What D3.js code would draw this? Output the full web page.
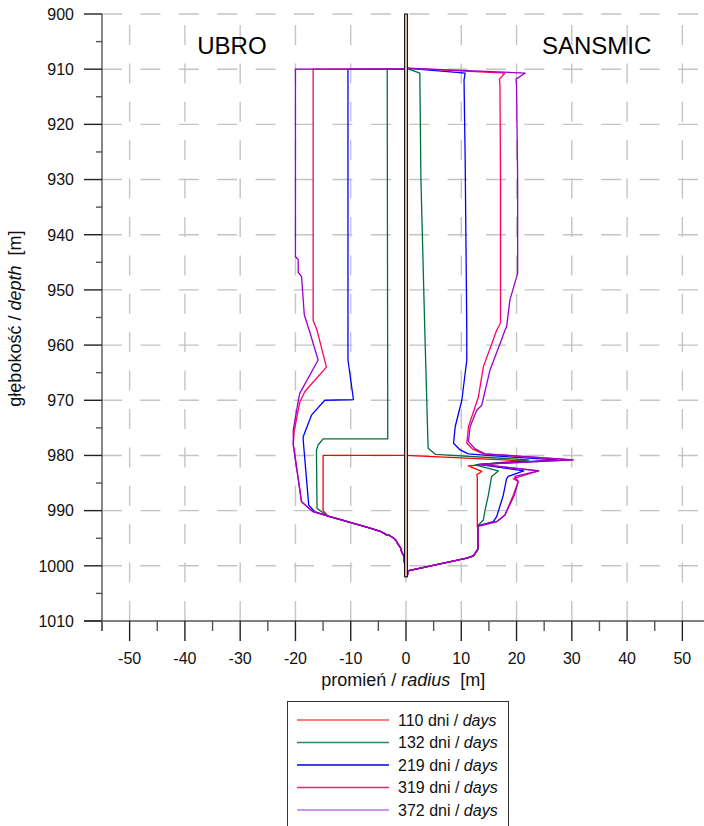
<!DOCTYPE html>
<html><head><meta charset="utf-8">
<script src="https://cdn.jsdelivr.net/npm/d3@7/dist/d3.min.js"></script>
<style>
html,body{margin:0;padding:0;background:#fff;}
svg{display:block;font-family:"Liberation Sans",Arial,sans-serif;}
</style></head>
<body>
<svg id="chart" width="704" height="826"></svg>
<script>
// ---- data ----
const days = [110, 132, 219, 319, 372];
const seriesColors = ["#ff0000", "#00703c", "#0000ff", "#ff0066", "#9a00d0"];
const legendColors = ["#ff5050", "#2e8b57", "#0000e0", "#ff2070", "#c070e0"];

// common bottom parts [radius, depth]
const commonLeft = [[-14.1,991],[-12,991.6],[-9.5,992.3],[-7.1,993],[-5.5,993.5],[-4.5,993.8],[-3.5,994.4],[-3.0,994.5],[-2.2,995.0],[-1.8,995.4],[-1.5,996.0],[-1.0,996.7],[-0.8,997.4],[-0.4,998.2],[-0.2,1000],[0,1001.8]];
const commonRight = [[13.0,993],[13.0,997],[12.2,998.2],[11.0,998.6],[0.3,1000.9],[0.3,1001.6]];

// UBRO (left) profiles
const ubro110 = [[0,980],[-15.0,980],[-15.0,990],[-14.1,991]];
const ubro132 = [[0,910],[-3.4,910],[-3.3,977],[-15.0,977],[-15.9,978.1],[-16.2,979],[-16.1,989.6],[-14.1,991]];
const ubro219 = [[0,910],[-10.5,910],[-10.5,962.7],[-9.5,969.9],[-14.7,970],[-17.1,972.7],[-18.6,976.6],[-18.6,977.2],[-17.6,989],[-16.5,990.2],[-14.1,991]];
const ubro319 = [[0,910],[-16.8,910],[-16.8,955.5],[-16.1,957.3],[-14.4,964],[-18.3,968.4],[-19.2,970.3],[-20.2,975.4],[-20.4,978],[-18.9,988.4],[-16.8,990.2],[-14.1,991]];
const ubro372 = [[0,910],[-20.0,910],[-20.0,944],[-19.5,944.5],[-19.5,946.8],[-18.9,947.6],[-18.4,954.5],[-17.3,958],[-15.9,962.7],[-19.2,968.7],[-19.4,969.6],[-20.4,975.4],[-20.4,978],[-18.9,988.4],[-16.8,990.2],[-14.1,991]];

// SANSMIC (right) profiles
const sansmic110 = [[0,980],[21.9,981.0],[11.3,981.9],[13.7,982.9],[12.8,983.5],[12.9,984],[12.9,992.9]];
const sansmic132 = [[0,909.8],[2.5,910.7],[2.7,930],[3.4,957.3],[4.0,978.7],[5.3,979.8],[22.2,980.8],[12.5,981.7],[16.7,982.8],[15.5,983.8],[14.9,987.2],[14.3,989.9],[14.0,991.7],[13.1,992.6]];
const sansmic219 = [[0,909.8],[10.7,910.7],[10.5,912],[10.7,926],[11.0,957.3],[11.0,962.7],[10.1,970],[8.9,974.8],[8.6,977.8],[9.8,979],[11.3,979.7],[14.6,980],[27.3,980.8],[13.1,981.6],[21.3,982.8],[18.5,983.8],[18.2,984.2],[17.6,987.2],[16.4,991.1],[15.8,992.0],[13.1,992.7]];
const sansmic319 = [[0,909.8],[17.9,910.7],[16.9,911.8],[17.0,913],[17.1,930],[17.1,956],[16.4,957.3],[15.8,959],[14.0,963.9],[13.1,969.4],[11.3,974.8],[11.0,977.8],[12.0,978.8],[14.0,979.7],[30.0,980.8],[13.3,981.6],[24.0,982.8],[19.4,984.2],[20.3,984.7],[19.4,987.2],[17.9,990.8],[16.4,992],[13.1,992.8]];
const sansmic372 = [[0,909.8],[21.6,910.7],[19.9,911.8],[20.0,913],[20.2,930],[20.2,947],[18.8,951.8],[18.2,956.7],[17.9,957.3],[17.3,959],[15.2,964.5],[13.7,970.9],[12.8,971.8],[11.6,974.8],[11.3,977.5],[12.5,978.8],[14.3,979.7],[30.3,980.8],[13.6,981.6],[24.0,982.8],[19.7,983.8],[20.3,984.8],[19.6,987.2],[17.9,990.8],[16.4,992],[13.1,992.8]];

const ubroProfiles = [ubro110, ubro132, ubro219, ubro319, ubro372];
const sansmicProfiles = [sansmic110, sansmic132, sansmic219, sansmic319, sansmic372];

// tubing in the middle: radii and depth span
const tubingRadii = [-0.25, 0.25];
const tubingDepth = [900, 1002];

const xMajorTicks = [-50,-40,-30,-20,-10,0,10,20,30,40,50];
const xMinorTicks = [-55,-45,-35,-25,-15,-5,5,15,25,35,45,55];
const yMajorTicks = [900,910,920,930,940,950,960,970,980,990,1000,1010];
const yMinorTicks = [905,915,925,935,945,955,965,975,985,995,1005];

// ---- drawing ----
const svg = d3.select("#chart");
const x = d3.scaleLinear().domain([-55, 55]).range([102, 710]);
const y = d3.scaleLinear().domain([900, 1010]).range([14, 621]);

// grid
const grid = svg.append("g").attr("stroke", "#c4c4c4").attr("stroke-width", 1.4).attr("stroke-dasharray", "20,18.4");
grid.selectAll(".hg").data(yMajorTicks.filter(d => d < 1010)).join("line")
  .attr("x1", x(-55)).attr("x2", 704).attr("y1", d => y(d)).attr("y2", d => y(d));
grid.selectAll(".vg").data(xMajorTicks).join("line")
  .attr("x1", d => x(d)).attr("x2", d => x(d)).attr("y1", y(1010)).attr("y2", y(900));

// axes
const axG = svg.append("g").attr("stroke", "#555").attr("stroke-width", 1.4);
axG.append("line").attr("x1", x(-55)).attr("x2", x(-55)).attr("y1", y(900)).attr("y2", y(1010) + 10);
axG.append("line").attr("x1", x(-55) - 18).attr("x2", 704).attr("y1", y(1010)).attr("y2", y(1010));
axG.selectAll(".ymj").data(yMajorTicks).join("line")
  .attr("x1", x(-55) - 18).attr("x2", x(-55)).attr("y1", d => y(d)).attr("y2", d => y(d)).attr("stroke", "#222");
axG.selectAll(".ymn").data(yMinorTicks).join("line")
  .attr("x1", x(-55) - 6).attr("x2", x(-55)).attr("y1", d => y(d)).attr("y2", d => y(d));
axG.selectAll(".xmj").data(xMajorTicks).join("line")
  .attr("x1", d => x(d)).attr("x2", d => x(d)).attr("y1", y(1010)).attr("y2", y(1010) + 20).attr("stroke", "#222");
axG.selectAll(".xmn").data(xMinorTicks).join("line")
  .attr("x1", d => x(d)).attr("x2", d => x(d)).attr("y1", y(1010)).attr("y2", y(1010) + 10);

// tick labels
svg.append("g").selectAll("text").data(yMajorTicks).join("text")
  .attr("x", 74).attr("y", d => y(d) + 5.8).attr("text-anchor", "end")
  .attr("font-size", 16).attr("fill", "#111").text(d => d);
svg.append("g").selectAll("text").data(xMajorTicks).join("text")
  .attr("x", d => x(d)).attr("y", 664).attr("text-anchor", "middle")
  .attr("font-size", 16).attr("fill", "#111").text(d => d);

// axis titles
const xt = svg.append("text").attr("x", x(-0.5)).attr("y", 686).attr("text-anchor", "middle").attr("font-size", 18).attr("fill", "#111");
xt.append("tspan").text("promień / ");
xt.append("tspan").attr("font-style", "italic").text("radius");
xt.append("tspan").text("\u00a0 [m]");
const yt = svg.append("text").attr("transform", `translate(21,${y(955.2)}) rotate(-90)`).attr("text-anchor", "middle").attr("font-size", 18).attr("fill", "#111");
yt.append("tspan").text("głębokość / ");
yt.append("tspan").attr("font-style", "italic").text("depth");
yt.append("tspan").text("\u00a0 [m]");

// section labels
svg.append("text").attr("x", x(-31.5)).attr("y", 54).attr("text-anchor", "middle").attr("font-size", 24).text("UBRO");
svg.append("text").attr("x", x(34.5)).attr("y", 54).attr("text-anchor", "middle").attr("font-size", 24).text("SANSMIC");

// profiles
const line = d3.line().x(d => x(d[0])).y(d => y(d[1]));
const plot = svg.append("g").attr("fill", "none").attr("stroke-width", 1.3).attr("stroke-linejoin", "round");
days.forEach((dd, i) => {
  plot.append("path").attr("d", line(ubroProfiles[i].concat(commonLeft))).attr("stroke", seriesColors[i]);
  plot.append("path").attr("d", line(sansmicProfiles[i].concat(commonRight))).attr("stroke", seriesColors[i]);
});

// tubing
svg.append("rect").attr("x", x(tubingRadii[0])).attr("width", x(tubingRadii[1]) - x(tubingRadii[0]))
  .attr("y", y(tubingDepth[0])).attr("height", y(tubingDepth[1]) - y(tubingDepth[0]))
  .attr("fill", "#f3c8c0").attr("stroke", "#000").attr("stroke-width", 1);

// legend
const lg = svg.append("g");
lg.append("rect").attr("x", 287.5).attr("y", 701.5).attr("width", 221).attr("height", 130)
  .attr("fill", "#fff").attr("stroke", "#333").attr("stroke-width", 1);
days.forEach((dd, i) => {
  const ly = 720 + i * 22.5;
  lg.append("line").attr("x1", 297).attr("x2", 389).attr("y1", ly).attr("y2", ly)
    .attr("stroke", legendColors[i]).attr("stroke-width", 1.3);
  const t = lg.append("text").attr("x", 398).attr("y", ly + 5.5).attr("font-size", 16).attr("fill", "#111");
  t.append("tspan").text(dd + " dni / ");
  t.append("tspan").attr("font-style", "italic").text("days");
});
</script>
</body></html>
